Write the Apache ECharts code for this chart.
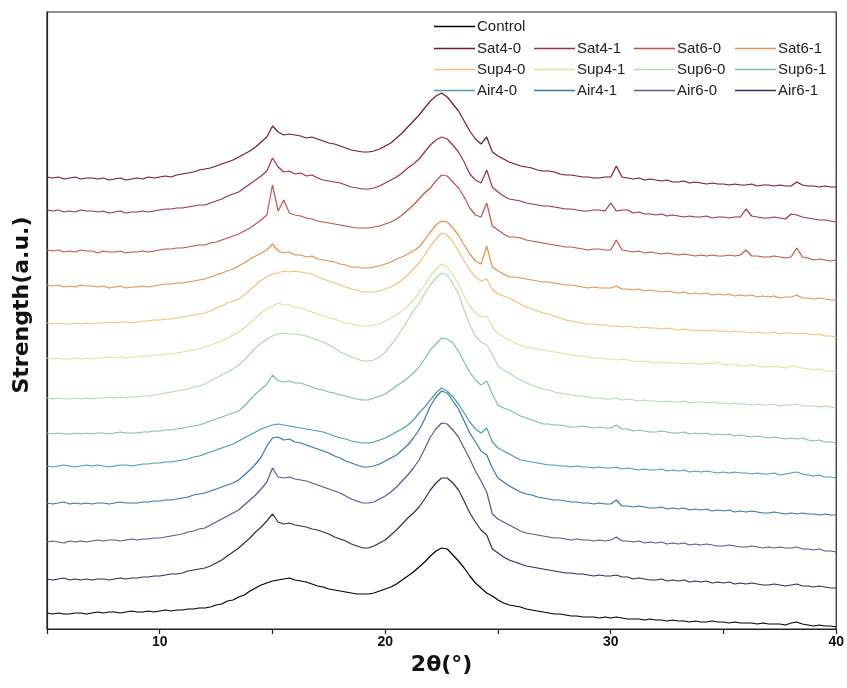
<!DOCTYPE html>
<html>
<head>
<meta charset="utf-8">
<script src="https://cdn.jsdelivr.net/npm/echarts@6/dist/echarts.min.js"></script>
<style>
  html, body { margin: 0; padding: 0; background: #fff; }
  #chart { width: 847px; height: 688px; }
</style>
</head>
<body>
<div id="chart"></div>
<script>
// Diffraction angle 2θ (degrees), 0.25° steps, shared by every pattern
const twoTheta = [
  5, 5.25, 5.5, 5.75, 6, 6.25, 6.5, 6.75, 7, 7.25, 7.5, 7.75, 8, 8.25, 8.5, 8.75, 9, 9.25, 9.5, 9.75,
  10, 10.25, 10.5, 10.75, 11, 11.25, 11.5, 11.75, 12, 12.25, 12.5, 12.75, 13, 13.25, 13.5, 13.75, 14, 14.25, 14.5, 14.75,
  15, 15.25, 15.5, 15.75, 16, 16.25, 16.5, 16.75, 17, 17.25, 17.5, 17.75, 18, 18.25, 18.5, 18.75, 19, 19.25, 19.5, 19.75,
  20, 20.25, 20.5, 20.75, 21, 21.25, 21.5, 21.75, 22, 22.25, 22.5, 22.75, 23, 23.25, 23.5, 23.75, 24, 24.25, 24.5, 24.75,
  25, 25.25, 25.5, 25.75, 26, 26.25, 26.5, 26.75, 27, 27.25, 27.5, 27.75, 28, 28.25, 28.5, 28.75, 29, 29.25, 29.5, 29.75,
  30, 30.25, 30.5, 30.75, 31, 31.25, 31.5, 31.75, 32, 32.25, 32.5, 32.75, 33, 33.25, 33.5, 33.75, 34, 34.25, 34.5, 34.75,
  35, 35.25, 35.5, 35.75, 36, 36.25, 36.5, 36.75, 37, 37.25, 37.5, 37.75, 38, 38.25, 38.5, 38.75, 39, 39.25, 39.5, 39.75,
  40];

// Stacked intensities (a.u.), one array per sample
const control = [
  16,15,16,15, 15,16,16,15, 16,17,16,17, 17,16,17,18, 17,17,18,17, 18,19,18,19, 19,20,20,21, 21,22,24,25, 28,29,32,34, 38,41,44,46,
  48,49,50,51, 49,48,47,45, 43,42,40,39, 38,37,36,35, 35,35,36,38, 40,42,45,49, 53,57,62,67, 73,78,81,80, 74,68,61,53, 46,41,36,33,
  29,26,24,23, 22,20,19,18, 17,16,15,15, 14,13,13,12, 12,12,11,12, 11,12,11,10, 10,10,9,10, 9,9,8,9, 8,8,7,8, 7,7,8,7,
  7,6,7,6, 6,6,5,6, 5,5,5,4, 6,7,5,4, 3,4,3,3, 2];
const sat40 = [
  452,451,452,450, 451,452,450,451, 451,450,451,449, 450,451,449,450, 451,450,452,451, 452,453,452,454, 455,456,457,459, 460,461,463,465, 467,469,472,475, 478,482,487,492,
  503,497,494,495, 494,493,491,492, 490,488,486,485, 483,481,479,478, 477,477,478,480, 483,486,491,496, 502,508,514,521, 528,533,536,532, 525,518,508,498, 490,485,492,477,
  473,470,467,465, 463,462,461,459, 458,458,457,455, 454,454,453,452, 452,451,451,452, 452,463,452,451, 450,451,449,450, 449,448,449,447, 447,448,446,447, 446,445,446,445,
  445,444,445,444, 444,445,443,444, 444,443,444,443, 443,447,444,443, 443,442,443,442, 442];
const sat41 = [
  419,418,419,417, 418,417,419,418, 418,417,418,416, 417,418,416,417, 417,418,417,418, 419,420,420,421, 421,422,423,424, 424,426,428,430, 433,435,437,441, 445,449,453,458,
  471,462,457,458, 455,456,453,454, 451,449,448,447, 446,444,442,441, 440,440,441,443, 446,449,452,456, 461,465,470,477, 484,489,492,490, 484,477,467,455, 449,446,459,442,
  437,433,430,429, 428,426,425,424, 423,423,422,421, 420,420,419,418, 418,419,419,418, 426,418,419,419, 416,417,415,415, 414,415,413,414, 413,412,413,412, 412,413,411,412,
  412,411,412,412, 420,413,412,411, 411,412,411,410, 415,414,412,411, 410,409,409,408, 407];
const sat60 = [
  379,378,379,377, 378,377,379,378, 378,376,378,377, 377,378,376,377, 377,378,377,378, 379,380,380,381, 381,382,383,384, 384,386,387,389, 391,393,395,398, 401,405,409,414,
  444,418,429,416, 414,413,411,410, 408,407,406,405, 404,403,402,401, 401,401,402,403, 405,407,410,414, 419,424,430,436, 441,448,454,453, 447,441,432,421, 414,412,426,403,
  399,395,392,392, 391,389,388,387, 386,385,384,383, 382,382,381,380, 379,380,380,379, 379,389,379,378, 377,378,376,377, 376,375,376,375, 374,375,374,373, 374,373,374,373,
  373,374,373,374, 379,373,373,372, 372,373,372,371, 372,381,372,371, 369,370,369,368, 369];
const sat61 = [
  344,343,344,342, 343,342,344,343, 343,342,343,341, 342,343,341,342, 342,343,342,343, 344,345,345,346, 346,347,348,349, 350,352,354,356, 358,360,363,366, 370,373,376,379,
  385,378,376,377, 374,374,372,373, 370,369,368,367, 365,364,362,362, 361,361,362,363, 365,367,370,372, 375,378,382,389, 397,404,408,407, 401,394,384,375, 368,365,383,362,
  358,355,352,352, 351,350,349,348, 347,347,346,345, 344,344,343,342, 341,342,341,341, 341,343,340,340, 339,340,338,339, 338,337,338,337, 336,337,335,336, 335,336,334,335,
  334,335,333,334, 333,334,332,333, 332,333,331,332, 332,334,331,331, 330,331,330,329, 329];
const sup40 = [
  306,305,306,305, 305,306,305,306, 305,306,306,307, 306,307,307,306, 307,308,308,309, 309,310,310,311, 312,313,314,315, 316,318,321,323, 326,328,330,334, 339,344,349,352,
  355,356,358,357, 358,357,356,355, 352,350,348,346, 344,342,340,339, 337,337,337,338, 340,342,345,349, 354,360,366,374, 383,390,396,394, 387,378,368,359, 352,348,350,340,
  335,333,331,328, 325,322,320,318, 316,315,313,311, 309,308,307,306, 305,305,304,304, 303,303,302,303, 302,301,302,301, 301,300,301,300, 299,300,299,298, 299,298,299,298,
  298,297,298,297, 297,296,297,296, 296,297,295,296, 296,295,296,295, 294,295,293,293, 292];
const sup41 = [
  271,270,271,270, 270,271,270,271, 270,271,271,272, 271,272,271,272, 272,273,273,274, 274,275,275,276, 277,278,279,280, 282,284,286,288, 291,294,297,301, 306,311,316,320,
  323,326,324,324, 322,321,319,317, 315,313,311,310, 308,306,305,304, 303,303,304,305, 308,311,314,318, 323,329,336,344, 353,360,365,362, 354,345,333,323, 316,312,313,302,
  295,292,289,286, 284,282,281,280, 279,278,277,276, 275,274,273,273, 272,271,271,270, 270,269,270,269, 268,267,268,267, 266,267,266,266, 266,265,266,265, 265,266,265,267,
  264,265,264,263, 263,264,263,262, 262,263,262,261, 263,262,261,260, 259,260,258,258, 257];
const sup60 = [
  231,230,231,230, 230,231,230,231, 230,231,231,232, 231,232,231,232, 232,233,233,234, 235,236,237,238, 239,240,242,243, 245,248,251,254, 257,260,264,269, 275,281,286,290,
  293,295,296,295, 295,294,293,291, 289,287,284,281, 277,275,272,270, 268,268,269,272, 277,284,291,300, 309,318,326,335, 344,351,356,354, 345,335,319,304, 293,287,284,275,
  263,259,256,252, 249,246,244,242, 240,239,237,236, 235,234,233,233, 232,231,231,230, 230,231,229,230, 229,228,229,228, 228,227,228,227, 227,228,226,227, 227,226,227,226,
  226,225,226,225, 225,224,225,224, 224,225,223,224, 224,225,223,223, 223,222,223,222, 221];
const sup61 = [
  196,195,196,195, 195,196,195,196, 195,196,196,195, 196,197,196,196, 196,197,197,198, 198,199,199,200, 201,202,203,204, 206,208,210,212, 214,216,218,223, 229,235,240,245,
  254,248,247,248, 246,246,244,242, 240,239,237,236, 234,233,231,230, 229,229,231,233, 235,239,243,247, 251,256,262,270, 279,285,291,290, 286,278,267,257, 249,244,248,235,
  224,221,219,216, 213,211,209,207, 205,205,204,204, 203,202,202,203, 202,201,202,201, 201,204,200,200, 198,199,198,197, 197,198,197,196, 196,197,195,196, 195,196,194,195,
  194,195,193,194, 193,192,193,192, 191,192,191,190, 191,190,191,189, 188,189,187,187, 186];
const air40 = [
  163,162,163,164, 163,162,163,164, 163,164,163,162, 163,164,164,163, 164,165,165,166, 166,167,167,168, 169,170,172,173, 175,177,179,181, 183,185,188,191, 194,197,200,202,
  204,205,204,203, 202,201,200,199, 198,197,195,193, 191,190,188,187, 186,186,187,189, 191,194,197,200, 204,209,216,222, 229,236,241,238, 232,225,216,207, 200,196,201,187,
  181,178,175,172, 169,168,167,166, 165,164,164,163, 163,162,163,162, 162,161,162,161, 161,162,160,161, 160,159,160,159, 159,160,158,159, 158,159,157,158, 157,158,157,156,
  157,156,157,156, 156,155,156,155, 155,156,154,155, 156,157,155,154, 153,154,152,152, 151];
const air41 = [
  126,125,126,127, 125,126,125,126, 125,126,126,125, 126,127,126,126, 126,127,127,128, 128,129,129,130, 131,132,134,135, 136,138,140,142, 144,146,149,154, 159,165,172,183,
  191,192,189,190, 187,186,184,182, 180,178,176,173, 171,168,166,164, 162,162,163,165, 168,171,174,179, 184,191,199,210, 223,232,238,236, 228,220,208,196, 187,178,174,161,
  151,147,143,140, 137,135,134,132, 131,130,129,129, 128,127,127,126, 126,125,126,125, 125,129,123,123, 122,123,122,121, 121,122,120,121, 120,121,119,120, 119,120,118,119,
  118,119,117,118, 117,118,117,116, 116,117,116,115, 116,115,116,115, 115,114,115,114, 114];
const air60 = [
  87,88,87,86, 88,87,88,87, 88,89,88,89, 89,88,89,90, 89,90,90,91, 91,92,93,94, 95,97,98,100, 101,104,107,110, 113,116,119,124, 129,134,140,147,
  161,152,151,152, 150,149,148,146, 144,142,140,138, 136,133,130,128, 126,126,127,130, 133,137,142,148, 154,161,169,180, 192,200,206,205, 199,192,181,170, 158,148,137,115,
  110,107,104,101, 98,96,95,94, 93,92,91,91, 90,89,90,89, 89,88,89,88, 89,92,88,88, 87,88,86,87, 86,87,85,86, 85,86,84,85, 84,85,84,83,
  83,84,83,82, 82,83,82,81, 82,81,82,81, 81,82,80,80, 79,80,78,78, 77];
const air61 = [
  50,49,50,51, 49,50,49,50, 49,50,50,49, 50,51,50,51, 51,52,52,53, 53,54,55,55, 56,58,59,60, 61,63,66,69, 73,77,81,86, 91,97,102,108,
  115,107,105,106, 104,103,102,100, 99,97,95,92, 90,88,85,83, 81,81,83,86, 89,94,99,105, 111,116,122,130, 139,146,151,151, 146,139,128,116, 107,99,94,80,
  76,72,69,67, 65,63,62,61, 60,59,58,57, 56,56,55,55, 54,53,54,53, 53,54,52,52, 50,51,50,49, 49,50,48,49, 48,49,47,48, 47,48,46,47,
  46,47,45,46, 45,46,45,44, 44,45,44,43, 44,45,43,43, 42,43,42,41, 41];

const sampleNames = ['Control', 'Sat4-0', 'Sat4-1', 'Sat6-0', 'Sat6-1', 'Sup4-0', 'Sup4-1', 'Sup6-0', 'Sup6-1', 'Air4-0', 'Air4-1', 'Air6-0', 'Air6-1'];
const sampleValues = [control, sat40, sat41, sat60, sat61, sup40, sup41, sup60, sup61, air40, air41, air60, air61];
const xTickLabels = [10, 20, 30, 40];

// Spectral-style palette: dark red, orange, yellow, green, blue, then near-black
const palette = ['#000000', '#75173f', '#a0304f', '#c4524a', '#e3914f', '#f1c178', '#dbe49c', '#b3d8b0', '#80bdaa', '#4b9db0', '#3a77a8', '#5b5796', '#372c58'];

const chart = echarts.init(document.getElementById('chart'), null, { renderer: 'canvas' });

const series = sampleNames.map((name, i) => ({
  name: name,
  type: 'line',
  symbol: 'none',
  silent: true,
  data: twoTheta.map((t, k) => [t, sampleValues[i][k]]),
  lineStyle: { color: palette[i], width: 1.2 },
  itemStyle: { color: palette[i] }
}));

// Legend laid out as a table: Control alone on the first row, then 4 columns
const colLeft = [434, 534, 634, 735];
const rowMid = [27, 49, 70, 91];
const legends = sampleNames.map((name, i) => {
  const row = i === 0 ? 0 : Math.floor((i - 1) / 4) + 1;
  const col = i === 0 ? 0 : (i - 1) % 4;
  return {
    data: [name],
    left: colLeft[col],
    top: rowMid[row] - 8,
    padding: 0,
    icon: 'rect',
    itemWidth: 41,
    itemHeight: 1.5,
    itemGap: 0,
    selectedMode: false,
    textStyle: { fontFamily: 'Liberation Sans, Arial, sans-serif', fontSize: 15, color: '#222', padding: [0, 0, 0, -3] }
  };
});

chart.setOption({
  animation: false,
  backgroundColor: '#ffffff',
  grid: { left: 47, right: 8, top: 12, bottom: 59, show: true, borderColor: '#222', borderWidth: 1.2 },
  legend: legends,
  xAxis: {
    type: 'value',
    min: 5,
    max: 40,
    interval: 5,
    name: '2θ(°)',
    nameLocation: 'middle',
    nameGap: 24,
    nameTextStyle: { fontFamily: 'DejaVu Sans, Liberation Sans, sans-serif', fontWeight: 'bold', fontSize: 22, color: '#111' },
    axisLine: { lineStyle: { color: '#222', width: 1.2 } },
    axisTick: { show: true, length: 5, lineStyle: { color: '#222', width: 1.2 } },
    axisLabel: {
      margin: 6,
      fontFamily: 'Liberation Sans Narrow, Liberation Sans, Arial, sans-serif',
      fontWeight: 'bold',
      fontSize: 14,
      color: '#111',
      formatter: v => (xTickLabels.indexOf(v) >= 0 ? String(v) : '')
    },
    splitLine: { show: false }
  },
  yAxis: {
    type: 'value',
    min: 0,
    max: 617,
    axisLine: { show: true, lineStyle: { color: '#222', width: 1.2 } },
    axisTick: { show: false },
    axisLabel: { show: false },
    splitLine: { show: false }
  },
  graphic: [{
    type: 'text',
    x: 22,
    y: 305,
    rotation: Math.PI / 2,
    style: {
      text: 'Strength(a.u.)',
      fill: '#111',
      font: 'bold 22px "DejaVu Sans", "Liberation Sans", sans-serif',
      textAlign: 'center',
      textVerticalAlign: 'middle'
    }
  }],
  series: series
});
</script>
</body>
</html>
